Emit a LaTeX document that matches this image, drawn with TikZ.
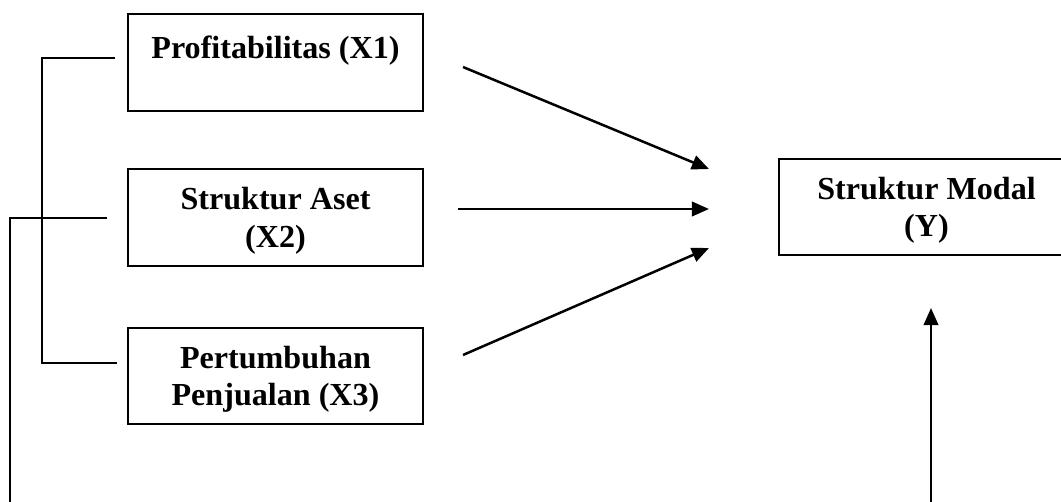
\documentclass[tikz,border=0pt]{standalone}
\usepackage{fontspec}
\setmainfont{Liberation Serif}
\usetikzlibrary{arrows.meta}
\newcommand{\atas}{\rule{0pt}{11pt}}

\begin{document}
\begin{tikzpicture}[x=0.38pt,y=-0.38pt,
  var/.style={draw,line width=0.75pt,minimum width=112pt,minimum height=36.5pt,
    align=center,inner sep=0pt,font=\fontsize{12.2}{14.2}\selectfont\bfseries},
  arr/.style={line width=0.95pt,-{Triangle[length=6.5pt,width=5.5pt]}},
  ln/.style={line width=0.8pt}]
\useasboundingbox (0,0) rectangle (1061,502);
\clip (0,0) rectangle (1061,502);
% variabel
\node[var] (x1) at (275.5,62.5) {\atas Profitabilitas (X1)\\~};
\node[var] (x2) at (275.5,217.5) {\atas Struktur Aset\\(X2)};
\node[var] (x3) at (275.5,376) {\atas Pertumbuhan\\Penjualan (X3)};
\node[var] (y) at (926.5,207) {\atas Struktur Modal\\(Y)};
% titik ujung panah
\coordinate (a1) at (463,67);   \coordinate (b1) at (709,169);
\coordinate (a2) at (458,209);  \coordinate (b2) at (709,209);
\coordinate (a3) at (463,355);  \coordinate (b3) at (709,248);
\coordinate (a4) at (931,502);  \coordinate (b4) at (931,308);
\draw[arr] (a1)--(b1);
\draw[arr] (a2)--(b2);
\draw[arr] (a3)--(b3);
\draw[arr] (a4)--(b4);
% garis kiri
\coordinate (k1) at (115,58);   \coordinate (k2) at (117,363);
\coordinate (k3) at (107,218);  \coordinate (k4) at (10,502);
\draw[ln] (k1) -- (42,58) -- (42,363) -- (k2);
\draw[ln] (k3) -| (k4);
\end{tikzpicture}
\end{document}
